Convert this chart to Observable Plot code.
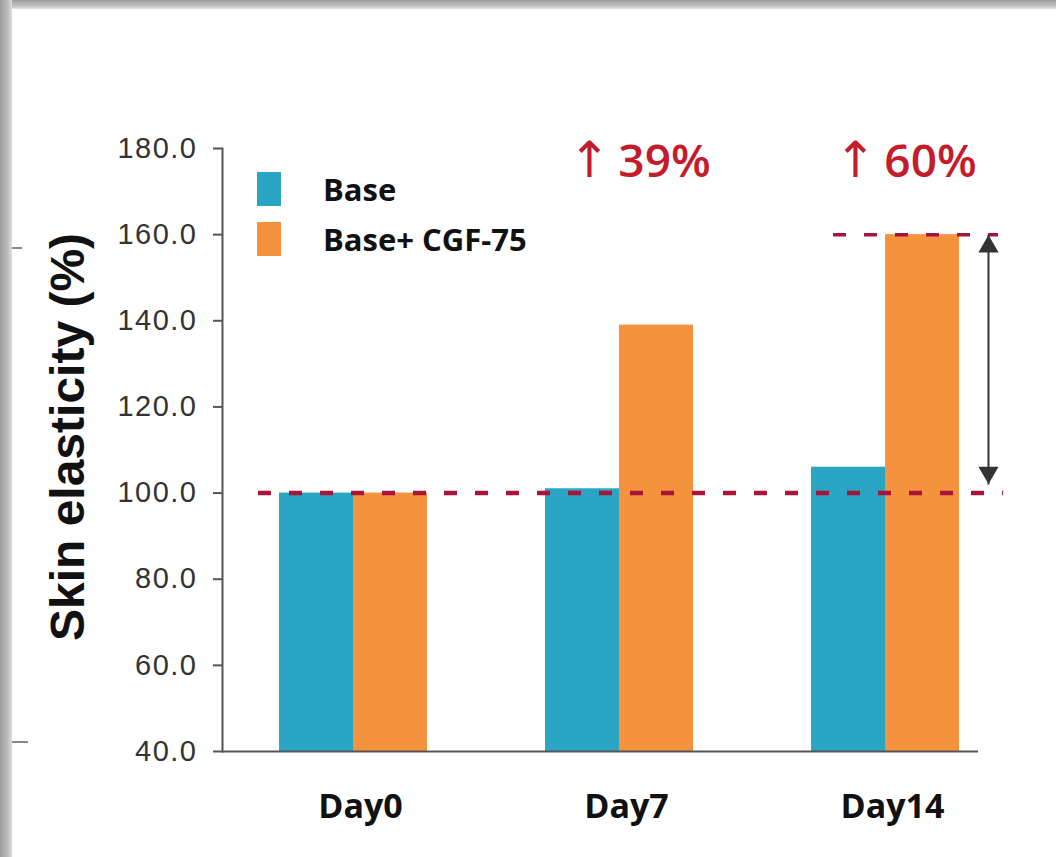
<!DOCTYPE html>
<html><head><meta charset="utf-8">
<script src="https://cdn.jsdelivr.net/npm/d3@7"></script>
<script src="https://cdn.jsdelivr.net/npm/@observablehq/plot@0.6"></script>
<style>
html,body{margin:0;padding:0;background:#fff;}
#wrap{position:relative;width:1056px;height:857px;overflow:hidden;background:#fff;}
#chart{position:absolute;left:0;top:0;}
#frame-top{position:absolute;left:0;top:0;width:1056px;height:9px;background:linear-gradient(to bottom,#9c9c9c,#c6c6c6 70%,#e4e4e4);}
#frame-left{position:absolute;left:0;top:0;width:12px;height:857px;background:linear-gradient(to right,#9c9c9c,#c2c2c2 70%,#dedede);}
.stray{position:absolute;height:2px;background:#888;}
#legend{position:absolute;left:257px;top:172px;font-family:"Open Sans",sans-serif;font-weight:700;font-size:31px;color:#111;}
.item{display:flex;align-items:center;height:34px;margin-bottom:16px;}
.sw{width:24px;height:34px;margin-right:42px;}
svg g[aria-label="y-axis tick label"] text{letter-spacing:1.5px;}
</style>
</head><body>
<div id="wrap">
  <div id="chart"></div>
  <div id="legend"></div>
  <div id="frame-top"></div>
  <div id="frame-left"></div>
  <div class="stray" style="left:12px;top:247px;width:10px;"></div>
  <div class="stray" style="left:12px;top:741px;width:16px;"></div>
</div>
<script>
// ---- data ----
const days = ["Day0", "Day7", "Day14"];
const series = ["Base", "Base+ CGF-75"];
const baseValues = [100, 101, 106];
const cgfValues = [100, 139, 160];
const yTicks = [40, 60, 80, 100, 120, 140, 160, 180];
const changeDays = ["Day7", "Day14"];
const changeLabels = ["↑39%", "↑60%"];
const refStart = 100;
const refPeak = 160;
const arrowDay = "Day14";
const arrowLow = 102;
const arrowHigh = 160;
const yLabel = "Skin elasticity (%)";
const colors = ["#2aa5c3", "#f5923e"];

// ---- tables ----
const rows = days.flatMap((d, i) => [
  {day: d, series: series[0], value: baseValues[i]},
  {day: d, series: series[1], value: cgfValues[i]}
]);
const changes = changeDays.map((d, i) => ({day: d, arrow: changeLabels[i].slice(0, 1), pct: changeLabels[i].slice(1)}));
const arrowRows = [{day: arrowDay, lo: arrowLow, hi: arrowHigh}];

const red = "#c41c2c";
const crimson = "#a8143a";

const chart = Plot.plot({
  width: 1056,
  height: 857,
  marginLeft: 222,
  marginRight: 36,
  marginTop: 148,
  marginBottom: 106,
  style: {background: "transparent", fontFamily: "Liberation Sans, Arial, sans-serif", overflow: "visible"},
  x: {domain: days, padding: 0},
  y: {domain: [40, 180], clamp: true},
  color: {domain: series, range: colors},
  marks: [
    Plot.barY(rows.filter(r => r.series === series[0]), {x: "day", y: "value", fill: "series", insetLeft: 57, insetRight: 135}),
    Plot.barY(rows.filter(r => r.series === series[1]), {x: "day", y: "value", fill: "series", insetLeft: 131, insetRight: 61}),
    Plot.ruleY([refStart], {stroke: crimson, strokeWidth: 4.5, strokeDasharray: "13,18", insetLeft: 36, insetRight: 17}),
    Plot.ruleY([refPeak], {stroke: crimson, strokeWidth: 3.5, strokeDasharray: "13,18", insetLeft: 611, insetRight: 22}),
    Plot.link(arrowRows, {x1: "day", x2: "day", y1: "lo", y2: "hi", dx: 101, dy: 0, stroke: "#333", strokeWidth: 2}),
    Plot.dot(arrowRows, {x: "day", y: "hi", dx: 101, dy: 12, symbol: "triangle", r: 7.5, fill: "#333", stroke: "none"}),
    Plot.dot(arrowRows, {x: "day", y: "lo", dx: 101, dy: -12, symbol: "triangle", rotate: 180, r: 7.5, fill: "#333", stroke: "none"}),
    Plot.ruleY([40], {stroke: "#555", strokeWidth: 2, insetRight: 42}),
    Plot.frame({anchor: "left", stroke: "#555", strokeWidth: 2}),
    Plot.axisY({ticks: yTicks, label: null, tickSize: 9, tickPadding: 16, strokeWidth: 2, stroke: "#555", fill: "#333",
      tickFormat: d => d.toFixed(1), fontSize: 29, fontFamily: "Liberation Sans, Arial, sans-serif"}),
    Plot.axisX({label: null, tickSize: 0, tickPadding: 42, dx: 5, fontSize: 34, fontWeight: "bold",
      fontFamily: "Open Sans, sans-serif", fill: "#111"}),
    Plot.text([yLabel], {frameAnchor: "left", textAnchor: "middle", text: d => d, rotate: -90, dx: -154, dy: -13,
      fontSize: 48, fontWeight: "bold", fontFamily: "Liberation Sans, Arial, sans-serif", fill: "#111"}),
    Plot.text(changes, {x: "day", text: "pct", frameAnchor: "top", lineAnchor: "middle", dy: 14, dx: 43,
      fontSize: 46, fontWeight: 600, fontFamily: "Open Sans, sans-serif", fill: red}),
    Plot.text(changes, {x: "day", text: "arrow", frameAnchor: "top", lineAnchor: "middle", dy: 12, dx: -32,
      fontSize: 50, fontWeight: "normal", fontFamily: "DejaVu Sans, sans-serif", fill: red})
  ]
});
document.getElementById("chart").appendChild(chart);

// legend
const legend = document.getElementById("legend");
series.forEach((s, i) => {
  const item = document.createElement("div");
  item.className = "item";
  const sw = document.createElement("div");
  sw.className = "sw";
  sw.style.background = colors[i];
  const t = document.createElement("span");
  t.textContent = s;
  item.appendChild(sw);
  item.appendChild(t);
  legend.appendChild(item);
});
</script>
</body></html>
